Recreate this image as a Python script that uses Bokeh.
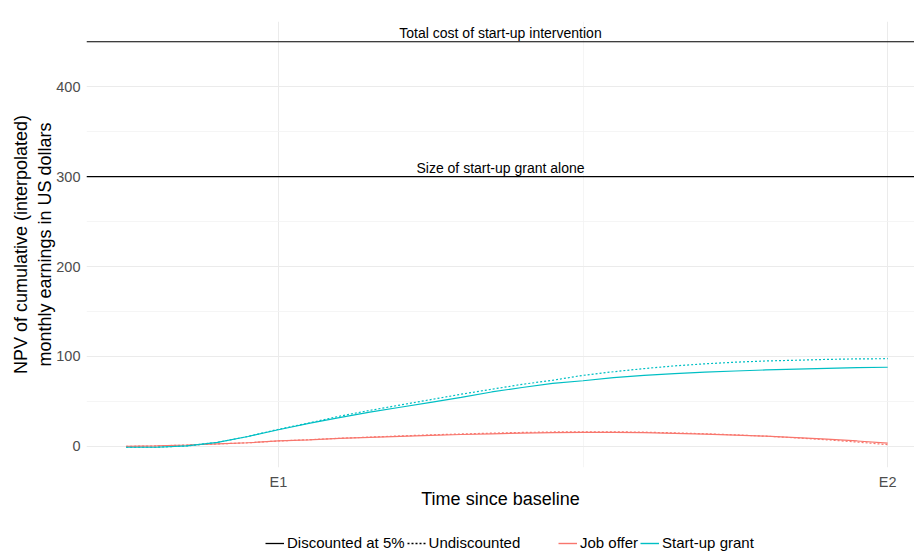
from bokeh.plotting import figure
from bokeh.layouts import column
from bokeh.models import Range1d, FixedTicker, Span, Label, Legend, LegendItem
from bokeh.embed import file_html
from bokeh.resources import INLINE

# ---- data ----
months = list(range(26))
grant_disc = [-1, -1, 0.5, 4.5, 11, 18.5, 25.5, 32, 38, 43.5, 49, 54.5, 60.5, 65.5, 70,
              73, 76.5, 79, 81, 82.5, 83.8, 85, 86, 86.8, 87.5, 88]
grant_undisc = [-1, -1, 0.5, 4.5, 11, 19, 26, 33.5, 40, 46, 52, 58, 63.5, 69, 73.5,
                79, 83, 86.5, 89.5, 91.8, 93.6, 95, 95.8, 96.7, 97.3, 97.5]
job_disc = [0, 0.5, 1.5, 2.7, 4, 6, 7.3, 8.8, 10, 11.2, 12.3, 13.2, 14, 14.8, 15.3,
            15.5, 15.5, 15.2, 14.5, 13.6, 12.6, 11.4, 9.8, 8, 6, 3.7]
job_undisc = [0, 0.5, 1.5, 2.7, 4, 6, 7.4, 9, 10.3, 11.6, 12.8, 13.8, 14.7, 15.5, 16,
              16.2, 16.2, 15.8, 15, 14, 12.8, 11.3, 9.5, 7.3, 4.8, 1.9]

x_tick_pos = [5, 25]
x_tick_labels = ["E1", "E2"]
x_minor = [15]
y_ticks = [0, 100, 200, 300, 400]
y_minor = [50, 150, 250, 350, 450]
ref_values = [450, 300]
ref_labels = ["Total cost of start-up intervention", "Size of start-up grant alone"]
type_labels = ["Discounted at 5%", "Undiscounted"]
group_labels = ["Job offer", "Start-up grant"]

JOB = "#F8766D"
GRANT = "#00BFC4"
FONT = "Liberation Sans"

x0, x1 = -1.3, 25.88
p = figure(width=914, height=514, output_backend="svg", toolbar_location=None,
           x_range=Range1d(x0, x1), y_range=Range1d(-23.5, 472.5),
           min_border_left=86, min_border_right=0, min_border_top=21, min_border_bottom=47)
p.outline_line_color = None
p.background_fill_color = "white"

# axes
for ax in (p.xaxis[0], p.yaxis[0]):
    ax.axis_line_color = None
    ax.major_tick_line_color = None
    ax.minor_tick_line_color = None
    ax.major_label_text_font = FONT
    ax.major_label_text_font_size = "14.5px"
    ax.major_label_text_color = "#4D4D4D"
    ax.axis_label_text_font = FONT
    ax.axis_label_text_font_size = "18px"
    ax.axis_label_text_font_style = "normal"
    ax.axis_label_text_color = "black"

p.xaxis.ticker = FixedTicker(ticks=x_tick_pos, minor_ticks=x_minor)
p.xaxis.major_label_overrides = {t: l for t, l in zip(x_tick_pos, x_tick_labels)}
p.xaxis.axis_label = "Time since baseline"
p.xaxis.major_label_standoff = 0
p.xaxis.axis_label_standoff = -4

p.yaxis.ticker = FixedTicker(ticks=y_ticks, minor_ticks=y_minor)
p.yaxis.axis_label = "NPV of cumulative (interpolated)\nmonthly earnings in US dollars"
p.yaxis.major_label_standoff = 0
p.yaxis.axis_label_standoff = -2

for g in (p.xgrid[0], p.ygrid[0]):
    g.grid_line_color = "#EBEBEB"
    g.grid_line_width = 1
    g.minor_grid_line_color = "#F2F2F2"
    g.minor_grid_line_width = 0.8

# reference lines
for v, lab in zip(ref_values, ref_labels):
    p.add_layout(Span(location=v, dimension="width", line_color="black", line_width=1.2))
    p.add_layout(Label(x=(x0 + x1) / 2, y=v, text=lab, text_align="center",
                       text_baseline="bottom", y_offset=1, text_font=FONT,
                       text_font_size="14px", text_color="black"))

# data lines
p.line(months, job_disc, line_color=JOB, line_width=1.2)
p.line(months, job_undisc, line_color=JOB, line_width=1.2, line_dash="2 2")
p.line(months, grant_disc, line_color=GRANT, line_width=1.2)
p.line(months, grant_undisc, line_color=GRANT, line_width=1.2, line_dash="2 2")

# ---- legend strip (separate figure below the plot; its ranges keep the
#      proxy lines out of view so only the legend keys show) ----
lf = figure(width=914, height=38, output_backend="svg", toolbar_location=None,
            x_range=Range1d(x0, x1), y_range=Range1d(1000, 1001),
            x_axis_type=None, y_axis_type=None,
            min_border_left=86, min_border_right=0, min_border_top=0, min_border_bottom=0)
lf.outline_line_color = None
lf.grid.visible = False

k_solid = lf.line(months, grant_disc, line_color="black", line_width=1.3)
k_dot = lf.line(months, grant_undisc, line_color="black", line_width=1.3, line_dash="2 2")
k_job = lf.line(months, job_disc, line_color=JOB, line_width=1.4)
k_grant = lf.line(months, grant_disc, line_color=GRANT, line_width=1.4)


def make_legend(items, loc):
    lg = Legend(items=items, orientation="horizontal", location=loc)
    lg.label_text_font = FONT
    lg.label_text_font_size = "15px"
    lg.label_text_color = "black"
    lg.glyph_width = 19
    lg.glyph_height = 16
    lg.label_height = 16
    lg.label_standoff = 3
    lg.spacing = 2
    lg.padding = 0
    lg.margin = 0
    lg.border_line_color = None
    lg.background_fill_alpha = 0
    return lg


lf.add_layout(make_legend([LegendItem(label=type_labels[0], renderers=[k_solid]),
                           LegendItem(label=type_labels[1], renderers=[k_dot])], (179, 1)))
lf.add_layout(make_legend([LegendItem(label=group_labels[0], renderers=[k_job]),
                           LegendItem(label=group_labels[1], renderers=[k_grant])], (472, 1)))

layout = column(p, lf, spacing=0)
open("out.html", "w").write(file_html(layout, INLINE))
